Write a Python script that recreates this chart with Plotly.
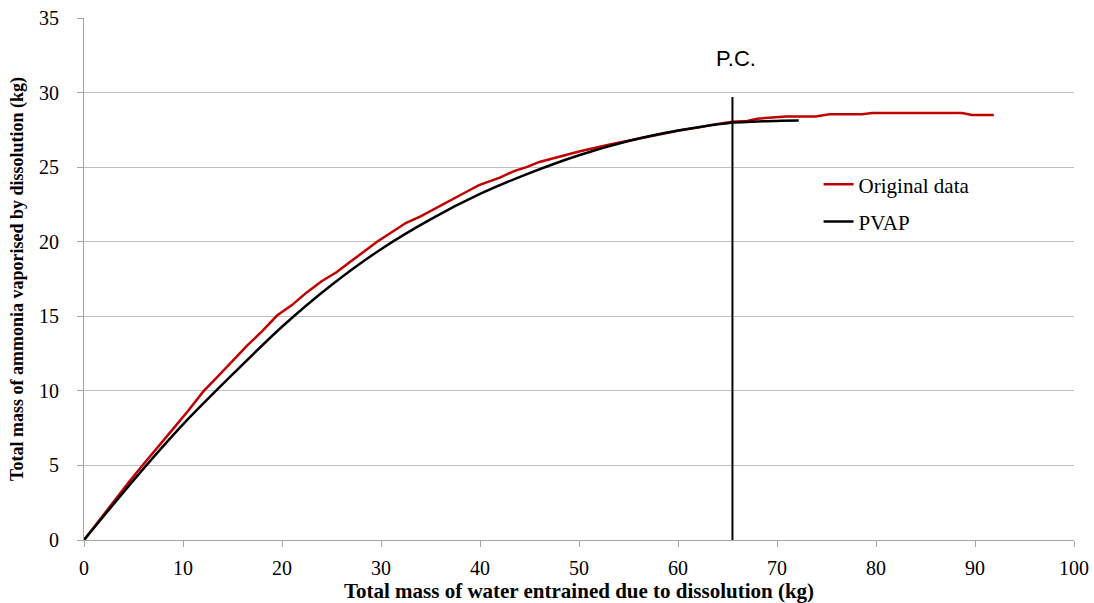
import plotly.graph_objects as go

# Original data (red)
orig_x = [0, 1.5, 3, 4.5, 5.9, 7.5, 9, 10.5, 12.1, 13.5, 15, 16.5, 18, 19.5, 21, 22.5, 24, 25.5, 27, 28.5, 29.6,
          31, 32.5, 34, 35.5, 37, 38.5, 39.9, 42, 43.5, 44.7, 46, 48, 50, 53, 56, 58, 60.1, 62, 63.5, 65.5,
          67, 68, 70.9, 73.9, 75.3, 78.6, 79.6, 88.7, 89.7, 91.9]
orig_y = [0, 1.3, 2.55, 3.85, 5.0, 6.3, 7.45, 8.65, 10.0, 10.95, 12.0, 13.05, 14.0, 15.05, 15.75, 16.6, 17.35, 17.95, 18.7, 19.45, 20.0,
          20.6, 21.25, 21.7, 22.25, 22.75, 23.3, 23.8, 24.3, 24.75, 25.0, 25.35, 25.7, 26.05, 26.5, 26.9, 27.15, 27.45, 27.65, 27.85, 28.05,
          28.1, 28.25, 28.4, 28.4, 28.55, 28.55, 28.63, 28.63, 28.5, 28.5]

# PVAP (black)
pvap_x = [0, 5, 10, 15, 20, 25, 30, 35, 40, 45, 50, 55, 60, 65, 70, 72.2]
pvap_y = [0, 4.0, 7.75, 11.1, 14.3, 17.1, 19.5, 21.5, 23.2, 24.6, 25.8, 26.75, 27.45, 27.95, 28.1, 28.12]

# P.C. marker
pc_x = [65.5, 65.5]
pc_y = [0, 29.7]
pc_label = "P.C."

fig = go.Figure()
fig.add_trace(go.Scatter(x=orig_x, y=orig_y, mode="lines", name="Original data", legendgroup="a",
                         line=dict(color="#c00000", width=2.5)))
fig.add_trace(go.Scatter(x=pvap_x, y=pvap_y, mode="lines", name="PVAP", legendgroup="b",
                         line=dict(color="#000000", width=2.5, shape="spline", smoothing=0.8)))
fig.add_trace(go.Scatter(x=pc_x, y=pc_y, mode="lines", showlegend=False,
                         line=dict(color="#000000", width=2)))
fig.add_annotation(x=pc_x[0], y=32.3, text=pc_label, showarrow=False, xshift=4,
                   font=dict(family="Liberation Sans, Arial", size=22, color="black"))

serif = "Liberation Serif, Times New Roman, serif"
fig.update_layout(
    width=1094, height=603,
    margin=dict(l=84, r=20, t=18, b=63),
    paper_bgcolor="white", plot_bgcolor="white",
    font=dict(family=serif, size=20, color="black"),
    legend=dict(x=0.742, y=0.72, xanchor="left", yanchor="top",
                font=dict(family=serif, size=21, color="black"),
                bgcolor="rgba(0,0,0,0)", itemwidth=30, tracegroupgap=7),
    xaxis=dict(range=[0, 100], dtick=10, showgrid=False, showline=True, linecolor="#a6a6a6",
               linewidth=1, ticks="outside", ticklen=6, tickcolor="#a6a6a6", zeroline=False,
               automargin=False, ticklabelstandoff=4,
               title=dict(text="<b>Total mass of water entrained due to dissolution (kg)</b>",
                          font=dict(family=serif, size=21), standoff=9),
               tickfont=dict(family=serif, size=20)),
    yaxis=dict(range=[0, 35], dtick=5, showgrid=True, gridcolor="#bfbfbf", gridwidth=1,
               showline=True, linecolor="#a6a6a6", linewidth=1, ticks="outside", ticklen=6,
               tickcolor="#a6a6a6", zeroline=False, automargin=False, ticklabelstandoff=14,
               title=dict(text="<b>Total mass of ammonia vaporised by dissolution (kg)</b>",
                          font=dict(family=serif, size=18), standoff=10),
               tickfont=dict(family=serif, size=20)),
)
fig.write_html("out.html")
